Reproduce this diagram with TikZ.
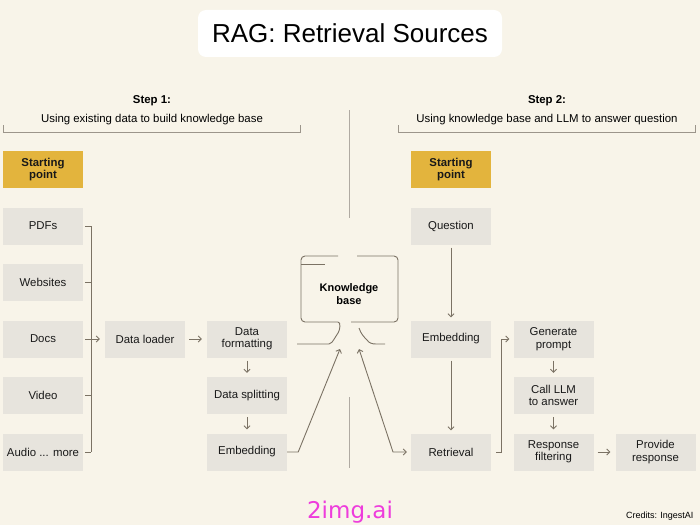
\documentclass[tikz,border=0pt]{standalone}
\usepackage{fontspec}
\setmainfont{Liberation Sans}
\newfontfamily\markfont{DejaVu Sans}
\usetikzlibrary{arrows.meta}
\definecolor{bg}{HTML}{F8F4E9}
\definecolor{boxgray}{HTML}{E7E4DD}
\definecolor{gold}{HTML}{E3B43D}
\definecolor{ink}{HTML}{7B7264}
\definecolor{wm}{HTML}{EE3CDC}
\tikzset{
	box/.style={fill=boxgray, minimum width=80pt, minimum height=37pt, inner sep=0pt, align=center, text=black!90, font=\fontsize{11.4}{12.5}\selectfont},
	startbox/.style={box, fill=gold, font=\bfseries\fontsize{11.4}{12.5}\selectfont},
	line/.style={draw=ink, line width=0.9pt},
	arr/.style={line, -{Straight Barb[length=3pt,width=6pt]}},
}
\begin{document}
\begin{tikzpicture}[x=1pt,y=-1pt]
		\fill[bg] (0,0) rectangle (700,525);
		\node[fill=white, rounded corners=8pt, minimum width=304pt, minimum height=47pt, font=\fontsize{26}{30}\selectfont] (title) at (350,33.5) {RAG: Retrieval Sources};
		% step headers
		\node[font=\bfseries\fontsize{11.4}{13}\selectfont] (step1) at (152,101) {Step 1:};
		\node[font=\fontsize{11.4}{13}\selectfont] (task1) at (152,120) {Using existing data to build knowledge base};
		\node[font=\bfseries\fontsize{11.4}{13}\selectfont] (step2) at (547,101) {Step 2:};
		\node[font=\fontsize{11.4}{13}\selectfont] (task2) at (547,120) {Using knowledge base and LLM to answer question};
		\draw[line, draw=ink!75, line width=0.7pt] (3,125) -- (3,132) -- (300,132) -- (300,125);
		\draw[line, draw=ink!75, line width=0.7pt] (398,125) -- (398,132) -- (695,132) -- (695,125);
		\draw[line, draw=ink!60, line width=0.7pt] (349,110) -- (349,218);
		\draw[line, draw=ink!60, line width=0.7pt] (349,397) -- (349,468);
		% step 1
		\node[startbox] (start1) at (43,169.5) {Starting\\point};
		\node[box] (pdf) at (43,226) {PDFs};
		\node[box] (web) at (43,282) {Websites};
		\node[box] (docs) at (43,339) {Docs};
		\node[box] (video) at (43,395.5) {Video};
		\node[box] (audio) at (43,452) {Audio ... more};
		\node[box] (loader) at (145,339) {Data loader};
		\node[box] (fmt) at (247,339) {Data\\formatting};
		\node[box] (split) at (247,395.5) {Data splitting};
		\node[box] (emb1) at (247,452) {Embedding};
		\foreach \s in {pdf,web,video,audio}
			\draw[line] ([xshift=2pt]\s.east) -- ++(6,0);
		\draw[line] ([xshift=8pt]pdf.east) -- ([xshift=8pt]audio.east);
		\draw[arr] ([xshift=2pt]docs.east) -- ([xshift=-5pt]loader.west);
		\draw[arr] ([xshift=4pt]loader.east) -- ([xshift=-5pt]fmt.west);
		\draw[arr] ([yshift=-3pt]fmt.south) -- ([yshift=4pt]split.north);
		\draw[arr] ([yshift=-3pt]split.south) -- ([yshift=4pt]emb1.north);
		% knowledge base
		\node[font=\bfseries\fontsize{11}{13}\selectfont, align=center] (kb) at (349,294.5) {Knowledge\\base};
		\draw[line, rounded corners=4pt] (338,256) -- (301,256) -- (301,322) -- (334,322) .. controls (341,322) and (340,330) .. (336,336) .. controls (333,341) and (331,344) .. (325,344) -- (297,344);
		\draw[line, rounded corners=4pt] (357,256) -- (398,256) -- (398,322) -- (351,322);
		\draw[line] (359,328) .. controls (361,334) and (364,337) .. (367,340) .. controls (369,343) and (372,344) .. (376,344) -- (385,344);
		\draw[line] (301,264) -- (325,264);
		\coordinate (kbin) at (340,349);
		\coordinate (kbout) at (359,349);
		\draw[arr] (emb1.east) -- ++(11,0) -- (kbin);
		% step 2
		\node[startbox] (start2) at (451,169.5) {Starting\\point};
		\node[box] (question) at (451,226) {Question};
		\node[box] (emb2) at (451,339) {Embedding};
		\node[box] (retr) at (451,452) {Retrieval};
		\node[box] (gen) at (553.5,339) {Generate\\prompt};
		\node[box] (call) at (553.5,395.5) {Call LLM\\to answer};
		\node[box] (filt) at (553.5,452) {Response\\filtering};
		\node[box] (provide) at (655.5,452) {Provide\\response};
		\draw[line, {Straight Barb[length=3pt,width=6pt]}-{Straight Barb[length=3pt,width=6pt]}] (kbout) -- (393,452) -- ([xshift=-4pt]retr.west);
		\draw[arr] ([yshift=-3pt]question.south) -- ([yshift=3pt]emb2.north);
		\draw[arr] ([yshift=-3pt]emb2.south) -- ([yshift=3pt]retr.north);
		\draw[arr] ([xshift=5pt]retr.east) -- ++(5,0) |- ([xshift=-4pt]gen.west);
		\draw[arr] ([yshift=-3pt]gen.south) -- ([yshift=4pt]call.north);
		\draw[arr] ([yshift=-3pt]call.south) -- ([yshift=4pt]filt.north);
		\draw[arr] ([xshift=4pt]filt.east) -- ([xshift=-5pt]provide.west);
		\node[anchor=east, font=\fontsize{9}{11}\selectfont] (credits) at (697,516) {Credits: IngestAI};
		\node[anchor=base, text=wm, font=\markfont\fontsize{23}{26}\selectfont] (mark) at (350,518) {2img.ai};
	\end{tikzpicture}
\end{document}
